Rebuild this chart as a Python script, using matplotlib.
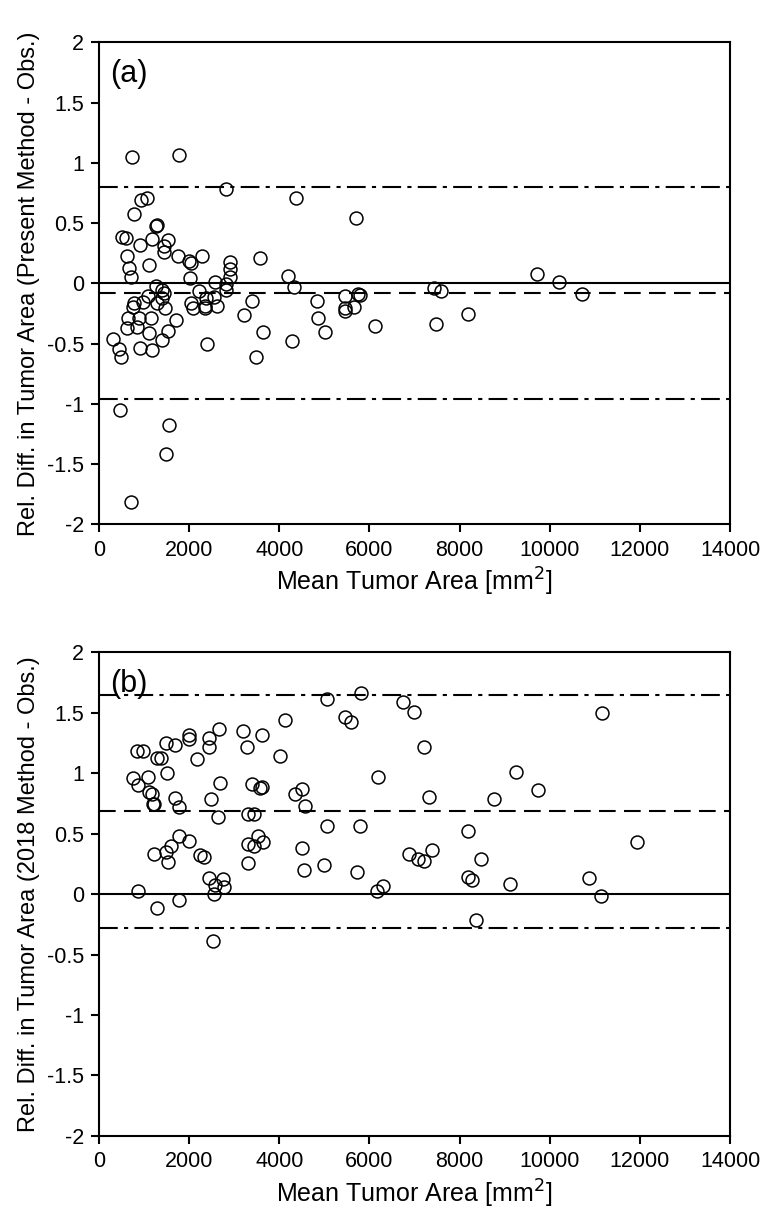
import matplotlib.pyplot as plt

plt.rcParams['font.family'] = ['Liberation Sans', 'DejaVu Sans']
plt.rcParams['axes.unicode_minus'] = False

# Panel (a): present method
x_a = [726, 1785, 2822, 4378, 926, 1074, 785, 1267, 1296, 504, 600, 1170, 1519,
       911, 1444, 1444, 630, 1741, 1111, 2000, 2044, 2281, 2911, 2911, 2911, 674,
       704, 2022, 3563, 4200, 4333, 2563, 2822, 2822, 1259, 1393, 1444, 1096,
       2207, 2378, 2541, 985, 785, 763, 1281, 1393, 1467, 2044, 2081, 2341, 2356,
       2615, 3385, 4837, 652, 896, 1148, 1704, 3207, 4852, 615, 852, 1111, 1526,
       3637, 5007, 304, 1400, 4281, 444, 911, 1170, 481, 2385, 3481, 467, 1563,
       1481, 711, 5704, 9726, 10207, 10726, 7430, 7578, 5467, 5756, 5800, 5467,
       5467, 5667, 6118, 7474, 8193]
y_a = [1.046, 1.066, 0.785, 0.705, 0.691, 0.711, 0.575, 0.476, 0.487, 0.383,
       0.377, 0.366, 0.358, 0.314, 0.311, 0.256, 0.228, 0.228, 0.154, 0.184,
       0.165, 0.228, 0.173, 0.116, 0.055, 0.129, 0.055, 0.046, 0.212, 0.063,
       -0.028, 0.011, -0.006, -0.055, -0.022, -0.055, -0.083, -0.102, -0.064,
       -0.124, -0.11, -0.152, -0.165, -0.193, -0.16, -0.119, -0.207, -0.165,
       -0.201, -0.188, -0.207, -0.185, -0.144, -0.144, -0.289, -0.284, -0.284,
       -0.303, -0.265, -0.289, -0.375, -0.361, -0.413, -0.394, -0.408, -0.408,
       -0.466, -0.474, -0.477, -0.543, -0.537, -0.557, -0.615, -0.504, -0.615,
       -1.05, -1.177, -1.42, -1.813, 0.54, 0.077, 0.013, -0.088, -0.041, -0.066,
       -0.105, -0.091, -0.10, -0.207, -0.229, -0.193, -0.358, -0.336, -0.251]
mean_a = -0.08
loa_a = [0.80, -0.96]

# Panel (b): 2018 method
x_b = [5059, 4119, 5452, 2652, 3193, 3622, 1985, 1985, 2430, 1481, 1689, 2430,
       3274, 852, 970, 1281, 1378, 2170, 4007, 1504, 763, 1081, 874, 2674, 3400,
       3578, 3622, 1119, 1185, 1207, 1230, 1689, 1778, 2481, 2644, 4341, 4511,
       4578, 3311, 3444, 5052, 1770, 1985, 1600, 1489, 1230, 1519, 2244, 2319,
       3311, 3444, 3526, 3637, 4496, 3304, 4541, 5000, 2444, 2741, 2578, 2778,
       2541, 874, 1289, 1785, 2526, 5822, 5600, 6741, 6985, 11170, 7215, 6185,
       9259, 9741, 7319, 8763, 5793, 8193, 11933, 5726, 6874, 7074, 7207, 7393,
       8193, 8281, 8474, 9119, 10874, 11133, 6170, 6304, 8363]
y_b = [1.615, 1.438, 1.46, 1.369, 1.349, 1.314, 1.314, 1.28, 1.29, 1.253, 1.233,
       1.217, 1.212, 1.183, 1.183, 1.125, 1.125, 1.115, 1.145, 0.998, 0.96,
       0.968, 0.901, 0.918, 0.913, 0.88, 0.885, 0.846, 0.83, 0.747, 0.747,
       0.791, 0.719, 0.788, 0.636, 0.83, 0.866, 0.727, 0.661, 0.661, 0.561,
       0.478, 0.442, 0.401, 0.348, 0.332, 0.266, 0.32, 0.307, 0.417, 0.401,
       0.484, 0.428, 0.378, 0.257, 0.202, 0.24, 0.133, 0.127, 0.077, 0.058,
       0.003, 0.027, -0.116, -0.05, -0.385, 1.66, 1.424, 1.59, 1.502, 1.496,
       1.214, 0.968, 1.012, 0.86, 0.799, 0.785, 0.561, 0.523, 0.432, 0.183,
       0.329, 0.293, 0.271, 0.368, 0.141, 0.113, 0.293, 0.08, 0.135, -0.02,
       0.022, 0.069, -0.213]
mean_b = 0.69
loa_b = [1.65, -0.28]

y_ticks = [-2, -1.5, -1, -0.5, 0, 0.5, 1, 1.5, 2]
y_tick_labels = ["-2", "-1.5", "-1", "-0.5", "0", "0.5", "1", "1.5", "2"]
x_ticks = [0, 2000, 4000, 6000, 8000, 10000, 12000, 14000]

fig = plt.figure(figsize=(7.63, 12.17), dpi=100)
ax_a = fig.add_axes([0.1298, 0.5692, 0.8270, 0.3960])
ax_b = fig.add_axes([0.1298, 0.0666, 0.8270, 0.3975])

panels = [
    (ax_a, x_a, y_a, mean_a, loa_a, "(a)",
     "Rel. Diff. in Tumor Area (Present Method - Obs.)"),
    (ax_b, x_b, y_b, mean_b, loa_b, "(b)",
     "Rel. Diff. in Tumor Area (2018 Method - Obs.)"),
]

for ax, xs, ys, mean, loa, tag, ylab in panels:
    ax.axhline(0, color="black", lw=1.5, zorder=1)
    ax.axhline(mean, color="black", lw=1.5, linestyle=(0, (8, 4)), zorder=1)
    for v in loa:
        ax.axhline(v, color="black", lw=1.5,
                   linestyle=(0, (9, 3, 2, 3)), zorder=1)
    ax.plot(xs, ys, linestyle="none", marker="o", markersize=9.3,
            markerfacecolor="none", markeredgecolor="black",
            markeredgewidth=1.1, zorder=2)
    ax.set_xlim(0, 14000)
    ax.set_ylim(-2, 2)
    ax.set_yticks(y_ticks)
    ax.set_yticklabels(y_tick_labels)
    ax.set_xticks(x_ticks)
    ax.set_xticklabels([str(t) for t in x_ticks])
    ax.tick_params(direction="out", length=6, width=1.5, labelsize=15.5,
                   top=False, right=False, pad=5)
    for s in ax.spines.values():
        s.set_linewidth(1.5)
    ax.set_xlabel("Mean Tumor Area [mm$^2$]", fontsize=18, labelpad=4)
    ax.set_ylabel(ylab, fontsize=17, labelpad=5)
    ax.text(0.018, 0.965, tag, transform=ax.transAxes, fontsize=22,
            va="top", ha="left")

plt.savefig("out.png", dpi=100)
